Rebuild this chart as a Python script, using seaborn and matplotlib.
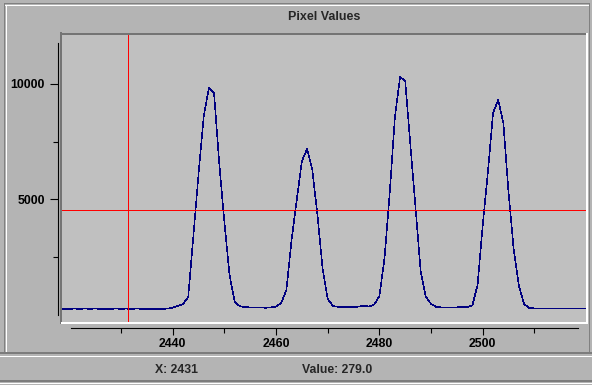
import matplotlib
matplotlib.use('Agg')
import pandas as pd
import seaborn as sns
from matplotlib import pyplot as plt
from matplotlib.lines import Line2D

# pixel column / value
pixel = list(range(2418, 2521))
value = [260, 250, 250, 285, 255, 285, 255, 285, 255, 255,
         255, 285, 255, 279, 255, 285, 260, 260, 260, 260,
         265, 275, 320, 390, 480, 780, 3420, 6100, 8600, 9820,
         9600, 6570, 4020, 1730, 560, 380, 340, 330, 330, 330,
         310, 330, 360, 520, 1080, 3240, 4970, 6650, 7180, 6300,
         4350, 2030, 690, 390, 350, 350, 350, 350, 360, 400,
         370, 450, 820, 2470, 5280, 8560, 10290, 10120, 7350, 4630,
         1860, 780, 480, 350, 330, 330, 330, 330, 360, 340,
         420, 1300, 3890, 6180, 8740, 9300, 8300, 5280, 2810, 1250,
         480, 300, 290, 290, 290, 290, 290, 290, 290, 290,
         290, 290, 290]

cursor_x = 2431.3
cursor_y = 4530
status_x = 'X: 2431'
status_val = 'Value: 279.0'

x_major = [2440, 2460, 2480, 2500]
x_minor = [2430, 2450, 2470, 2490, 2510]
y_major = [5000, 10000]
y_minor = [2500, 7500]

df = pd.DataFrame({'pixel': pixel, 'value': value})

sns.set_theme(style='ticks')
plt.rcParams['font.family'] = ['Liberation Sans', 'DejaVu Sans']
plt.rcParams['font.weight'] = 'bold'

W, H = 592, 385
fig = plt.figure(figsize=(W / 100, H / 100), dpi=100, facecolor='#b4b4b4')
ax = fig.add_axes([61 / W, 1 - 323 / H, (587 - 61) / W, (323 - 33) / H])
ax.set_facecolor('#c0c0c0')

sns.lineplot(data=df, x='pixel', y='value', ax=ax, color='#000080',
             linewidth=0.4, antialiased=False)
ax.axvline(cursor_x, color='#ff0000', linewidth=0.6, antialiased=False)
ax.axhline(cursor_y, color='#ff0000', linewidth=0.6, antialiased=False)

ax.set_xlim(2418.38, 2520.18)
ax.set_ylim(-346, 12197)
ax.set_xlabel('')
ax.set_ylabel('')

ax.set_xticks(x_major)
ax.set_xticks(x_minor, minor=True)
ax.set_yticks(y_major)
ax.set_yticks(y_minor, minor=True)
ax.set_xticklabels([str(v) for v in x_major])
ax.set_yticklabels([str(v) for v in y_major])

for s in ['top', 'right']:
    ax.spines[s].set_visible(False)
ax.spines['left'].set_position(('outward', 2.2))
ax.spines['bottom'].set_position(('outward', 3.3))
ax.spines['left'].set_bounds(0, 11760)
ax.spines['bottom'].set_bounds(2420.3, 2518.4)
for s in ['left', 'bottom']:
    ax.spines[s].set_color('black')
    ax.spines[s].set_linewidth(0.8)

ax.tick_params(axis='y', which='major', length=5.8, width=0.8, pad=3.6, labelsize=8.8, colors='black')
ax.tick_params(axis='y', which='minor', length=3.6, width=0.8, colors='black')
ax.tick_params(axis='x', which='major', length=5.0, width=0.8, pad=2.6, labelsize=8.8, colors='black')
ax.tick_params(axis='x', which='minor', length=3.6, width=0.8, colors='black')


def line(x0, y0, x1, y1, c, lw=1.0):
    fig.add_artist(Line2D([x0 / W, x1 / W], [1 - y0 / H, 1 - y1 / H],
                          color=c, linewidth=lw * 0.72, antialiased=False))


# sunken frame round the plot
line(61.5, 33, 61.5, 323, '#747474', 2)
line(61, 33.5, 587, 33.5, '#747474', 2)
line(62, 322.5, 587, 322.5, 'white', 2)
line(586.5, 34, 586.5, 323, 'white', 2)

# outer panel and status bar edges
line(4, 3, 589, 3, '#808080')
line(5, 4.5, 588, 4.5, 'white')
line(4, 3, 4, 353, '#808080')
line(6, 4.5, 6, 352, 'white')
line(589, 3, 589, 353, '#808080')
line(0, 353, W, 353, '#7c7c7c', 2)
line(0, 355.5, W, 355.5, 'white')
line(0, 380.5, W, 380.5, '#7c7c7c', 2)
line(0, 383, W, 383, 'white')

fig.text(324 / W, 1 - 17.5 / H, 'Pixel Values', ha='center', va='center',
         fontsize=9, fontweight='bold')
fig.text(176.5 / W, 1 - 370 / H, status_x, ha='center', va='center',
         fontsize=8.8, fontweight='bold')
fig.text(302 / W, 1 - 370 / H, status_val, ha='left', va='center',
         fontsize=8.8, fontweight='bold')

fig.savefig('out.png', dpi=100, facecolor=fig.get_facecolor())
